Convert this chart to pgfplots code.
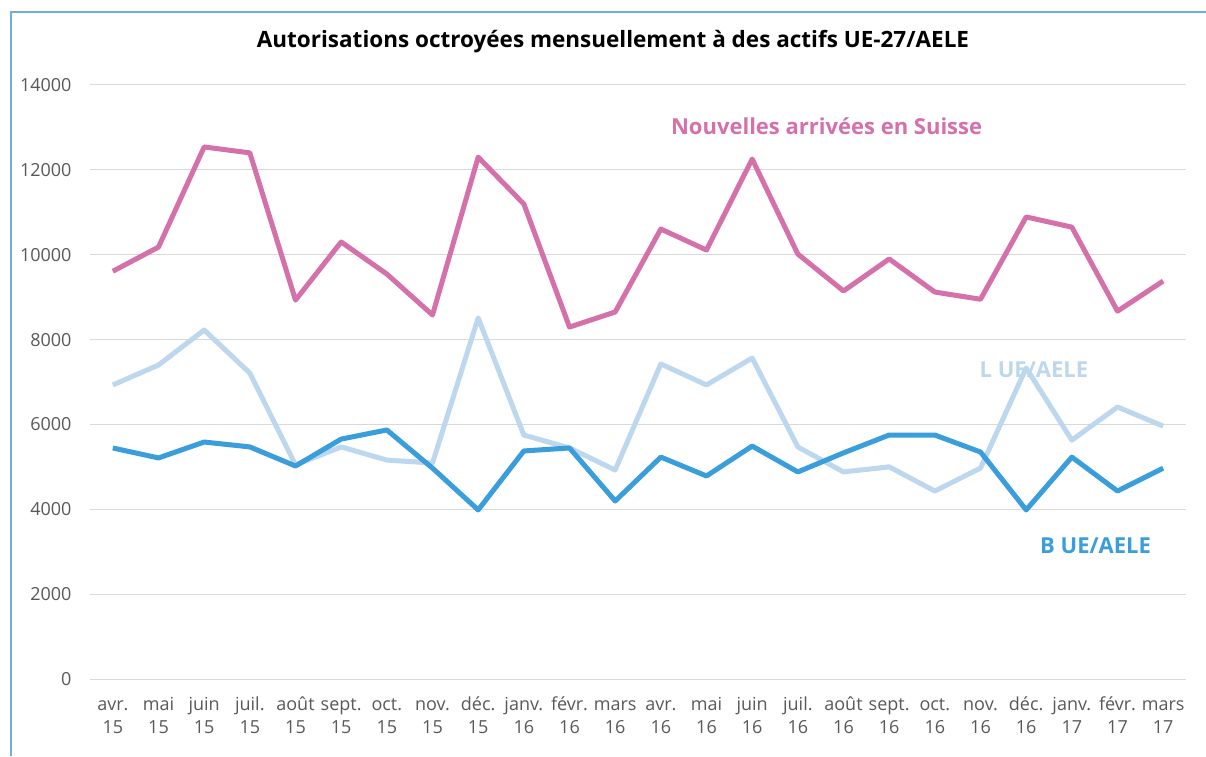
\documentclass[border=0pt]{standalone}
\usepackage{pgfplots}
\pgfplotsset{compat=1.18}
\usepackage{pgfplotstable}
\usepackage{fontspec}
\setmainfont{Open Sans}
\definecolor{pinkc}{RGB}{212,113,170}
\definecolor{lblue}{RGB}{189,215,238}
\definecolor{dblue}{RGB}{57,158,219}
\definecolor{gridc}{RGB}{217,217,217}
\definecolor{txt}{RGB}{89,89,89}
\definecolor{frame}{RGB}{110,175,225}
\pgfplotstableread{
x N L B
0 9610 6930 5445
1 10180 7400 5210
2 12540 8225 5585
3 12400 7210 5470
4 8930 5045 5020
5 10300 5470 5655
6 9545 5160 5870
7 8580 5090 4970
8 12300 8510 3985
9 11195 5750 5375
10 8295 5445 5445
11 8650 4925 4195
12 10605 7425 5230
13 10110 6930 4785
14 12255 7565 5490
15 10016 5470 4880
16 9145 4880 5330
17 9900 5000 5750
18 9120 4430 5750
19 8950 4970 5350
20 10890 7330 3985
21 10650 5630 5230
22 8670 6410 4430
23 9380 5960 4970
}\data
\newcommand{\tl}[2]{\strut #1\\\strut #2}
\begin{document}
\begin{tikzpicture}
\useasboundingbox (0pt,0pt) rectangle (1206pt,756pt);
\fill[white] (0pt,0pt) rectangle (1206pt,756pt);
\draw[frame,line width=1.2pt] (11pt,0pt) -- (11pt,744pt) -- (1206pt,744pt);
\node[font=\fontsize{22.5}{26}\selectfont\bfseries] at (613pt,714pt) {Autorisations octroyées mensuellement à des actifs UE-27/AELE};
\begin{axis}[at={(90pt,77pt)}, anchor=south west, width=1096pt, height=594pt, scale only axis,
  xmin=-0.5, xmax=23.5, ymin=0, ymax=14000,
  axis x line*=bottom, axis y line*=left,
  y axis line style={draw=none},
  ytick={0,2000,...,14000}, scaled y ticks=false,
  ymajorgrids, grid style={gridc, line width=1pt},
  /pgf/number format/1000 sep={}, /pgf/number format/assume math mode=true,
  yticklabel style={font=\fontsize{18}{20}\selectfont, text=txt, xshift=-15pt},
  xtick={0,...,23},
  xticklabels={{\tl{avr.}{15}},{\tl{mai}{15}},{\tl{juin}{15}},{\tl{juil.}{15}},{\tl{août}{15}},{\tl{sept.}{15}},{\tl{oct.}{15}},{\tl{nov.}{15}},{\tl{déc.}{15}},{\tl{janv.}{16}},{\tl{févr.}{16}},{\tl{mars}{16}},{\tl{avr.}{16}},{\tl{mai}{16}},{\tl{juin}{16}},{\tl{juil.}{16}},{\tl{août}{16}},{\tl{sept.}{16}},{\tl{oct.}{16}},{\tl{nov.}{16}},{\tl{déc.}{16}},{\tl{janv.}{17}},{\tl{févr.}{17}},{\tl{mars}{17}}},
  xticklabel style={font=\fontsize{18}{23}\selectfont, text=txt, align=center, yshift=-12pt},
  major x tick style={draw=none},
  extra x ticks={-0.5,0.5,...,23.5}, extra x tick labels={},
  extra x tick style={major tick length=7pt, tick style={gridc, line width=1pt}, tick align=outside, grid=none},
  x axis line style={gridc, line width=1pt, -},
  y tick style={draw=none},
  clip=false,
]
\addplot[pinkc, line width=5pt, line join=round] table[x=x,y=N]{\data};
\addplot[lblue, line width=5pt, line join=round] table[x=x,y=L]{\data};
\addplot[dblue, line width=5pt, line join=round] table[x=x,y=B]{\data};
\node[pinkc, font=\fontsize{22}{26}\selectfont\bfseries] at (axis cs:15.63,13033) {Nouvelles arrivées en Suisse};
\node[lblue, font=\fontsize{22}{26}\selectfont\bfseries] at (axis cs:20.17,7283) {L UE/AELE};
\node[dblue, font=\fontsize{22}{26}\selectfont\bfseries] at (axis cs:21.52,3135) {B UE/AELE};
\end{axis}
\end{tikzpicture}
\end{document}
